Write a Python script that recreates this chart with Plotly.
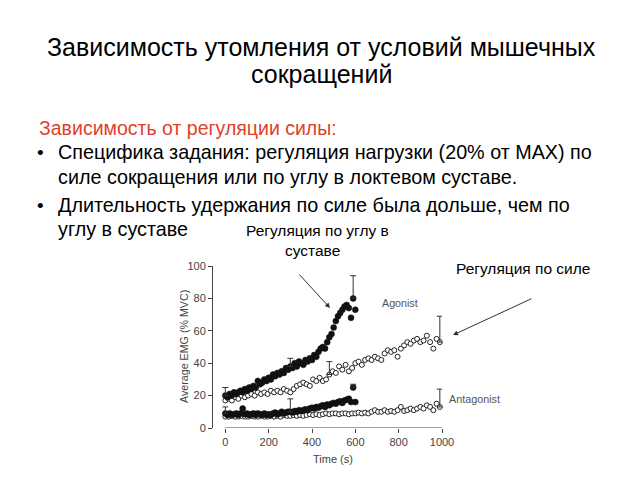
import plotly.graph_objects as go

# ---------------- data ----------------
t_angle = list(range(0, 610, 10))
angle_agonist = [20, 19, 21, 20, 22, 21, 22, 23, 22, 24,
                 23, 25, 24, 26, 25, 29, 27, 28, 30, 29,
                 31, 30, 33, 32, 34, 33, 35, 34, 37, 36,
                 38, 37, 40, 38, 41, 40, 39, 42, 41, 43,
                 42, 45, 44, 47, 49, 50, 49, 53, 56, 58,
                 62, 66, 69, 71, 73, 75, 76, 74, 68, 80, 73]
angle_antagonist = [9, 8, 9, 8, 8.5, 9, 8, 9, 12, 8.5,
                    9, 8, 8.5, 9, 8, 9, 8.5, 8, 9, 8,
                    8.5, 8, 9, 9.5, 8.5, 9, 10, 9, 9.5, 10,
                    10, 9.5, 10.5, 10, 11, 10.5, 11, 11.5, 11, 12,
                    12.5, 12, 13, 12.5, 13.5, 14, 13, 14.5, 14, 15,
                    15.5, 15, 16, 16.5, 15.5, 17, 17.5, 18, 16, 25, 16]

t_force = list(range(0, 1000, 15))
force_agonist = [17, 18, 17, 19, 18, 20, 19, 20, 21, 20,
                 22, 21, 22, 21, 23, 22, 23, 22, 24, 23,
                 22, 24, 26, 27, 28, 27, 26, 30, 29, 31,
                 29, 30, 33, 35, 34, 38, 36, 39, 35, 37,
                 40, 41, 39, 42, 43, 42, 44, 43, 42, 46,
                 48, 47, 48, 44, 49, 51, 53, 52, 54, 55,
                 53, 54, 57, 53, 49, 55, 53]
force_antagonist = [7, 7, 7.5, 7, 7, 7.5, 7, 7, 7.5, 7,
                    7, 7.5, 7, 7, 7.5, 7, 7.5, 7, 8, 7.5,
                    7.5, 8, 7.5, 8, 7.5, 8, 8.5, 8, 8.5, 8,
                    8.5, 9, 8.5, 9, 9, 8.5, 9, 9, 8.5, 9,
                    9, 9.5, 9, 9.5, 9, 10, 11, 10, 10, 11,
                    10, 10.5, 10, 11, 13, 10.5, 11, 12, 11, 12,
                    13, 12, 14, 13, 11, 15, 13]

errbar_t = [0, 0, 300, 300, 480, 590, 590, 990, 990]
errbar_base = [20, 9, 38, 10, 33, 80, 25, 53, 13]
errbar_up = [5, 4, 5, 8, 8, 14, 2, 16, 11]

y_ticks = [0, 20, 40, 60, 80, 100]
x_ticks = [0, 200, 400, 600, 800, 1000]

# ---------------- layout geometry ----------------
W, H = 640, 480
L, R, T, B = 213, 198, 266, 52
PW, PH = W - L - R, H - T - B

def px(x):
    return (x - L) / PW

def py(y):
    return 1 - (y - T) / PH

FONT = "Liberation Sans, Arial, Helvetica, sans-serif"
AX = "#444444"

fig = go.Figure()

fig.add_trace(go.Scatter(x=t_force, y=force_agonist, mode="markers",
                         marker=dict(symbol="circle", size=5, color="white",
                                     line=dict(color="#222", width=1)),
                         cliponaxis=False))
fig.add_trace(go.Scatter(x=t_force, y=force_antagonist, mode="markers",
                         marker=dict(symbol="circle", size=5, color="white",
                                     line=dict(color="#222", width=1)),
                         cliponaxis=False))
fig.add_trace(go.Scatter(x=t_angle, y=angle_agonist, mode="markers",
                         marker=dict(symbol="circle", size=6, color="#111",
                                     line=dict(color="#111", width=0.5)),
                         cliponaxis=False))
fig.add_trace(go.Scatter(x=t_angle, y=angle_antagonist, mode="markers",
                         marker=dict(symbol="circle", size=6, color="#111",
                                     line=dict(color="#111", width=0.5)),
                         cliponaxis=False))
fig.add_trace(go.Scatter(x=errbar_t, y=errbar_base, mode="markers",
                         marker=dict(size=1, opacity=0),
                         error_y=dict(type="data", array=errbar_up,
                                      arrayminus=[0] * len(errbar_up),
                                      color="#333", thickness=1, width=3),
                         cliponaxis=False))

fig.add_shape(type="line", xref="x", yref="y", x0=0, x1=1000, y0=0, y1=0,
              line=dict(color=AX, width=1))

ann = []

def text(x, y, s, size, color="#000", anchor="left"):
    ann.append(dict(xref="paper", yref="paper", x=px(x), y=py(y), text=s,
                    showarrow=False, xanchor=anchor, yanchor="middle",
                    font=dict(family=FONT, size=size, color=color)))

text(321, 47, "Зависимость утомления от условий мышечных", 25, anchor="center")
text(321, 74, "сокращений", 25, anchor="center")
text(37, 128, "Зависимость от регуляции силы:", 19.5, color="#E0402A")
text(35, 152, "•", 19)
text(56, 152, "Специфика задания: регуляция нагрузки (20% от MAX) по", 19.75)
text(56, 177, "силе сокращения или по углу в локтевом суставе.", 19.75)
text(35, 205, "•", 19)
text(56, 205, "Длительность удержания по силе была дольше, чем по", 19.75)
text(56, 229, "углу в суставе", 19.75)
text(317, 230, "Регуляция по углу в", 15.5, anchor="center")
text(312, 250, "суставе", 15.5, anchor="center")
text(523, 268, "Регуляция по силе", 15.5, anchor="center")
text(400, 303, "Agonist", 10.7, color="#555", anchor="center")
text(474, 399, "Antagonist", 10.8, color="#555", anchor="center")
text(333, 459, "Time (s)", 11, color="#444", anchor="center")
ann.append(dict(xref="paper", yref="paper", x=px(184), y=py(347),
                text="Average EMG (% MVC)", showarrow=False, textangle=-90,
                xanchor="center", yanchor="middle",
                font=dict(family=FONT, size=10.7, color="#444")))

# arrows
ann.append(dict(xref="paper", yref="paper", x=px(330), y=py(308), ax=-32, ay=-35,
                text="", showarrow=True, arrowhead=2, arrowsize=1, arrowwidth=1,
                arrowcolor="#333"))
ann.append(dict(xref="paper", yref="paper", x=px(453), y=py(335), ax=80, ay=-37,
                text="", showarrow=True, arrowhead=2, arrowsize=1, arrowwidth=1,
                arrowcolor="#333"))

fig.update_layout(
    width=W, height=H,
    margin=dict(l=L, r=R, t=T, b=B, pad=0),
    paper_bgcolor="white", plot_bgcolor="white",
    showlegend=False,
    annotations=ann,
    xaxis=dict(range=[-57, 1000], tickmode="array", tickvals=x_ticks,
               showline=False, showgrid=False, zeroline=False,
               ticks="outside", ticklen=4, tickcolor=AX, tickwidth=1,
               tickfont=dict(family=FONT, size=11, color="#444")),
    yaxis=dict(range=[0, 100], tickmode="array", tickvals=y_ticks,
               showline=True, linecolor=AX, linewidth=1,
               showgrid=False, zeroline=False,
               ticks="outside", ticklen=4, tickcolor=AX, tickwidth=1,
               tickfont=dict(family=FONT, size=11, color="#444")),
)

fig.write_html("out.html")
